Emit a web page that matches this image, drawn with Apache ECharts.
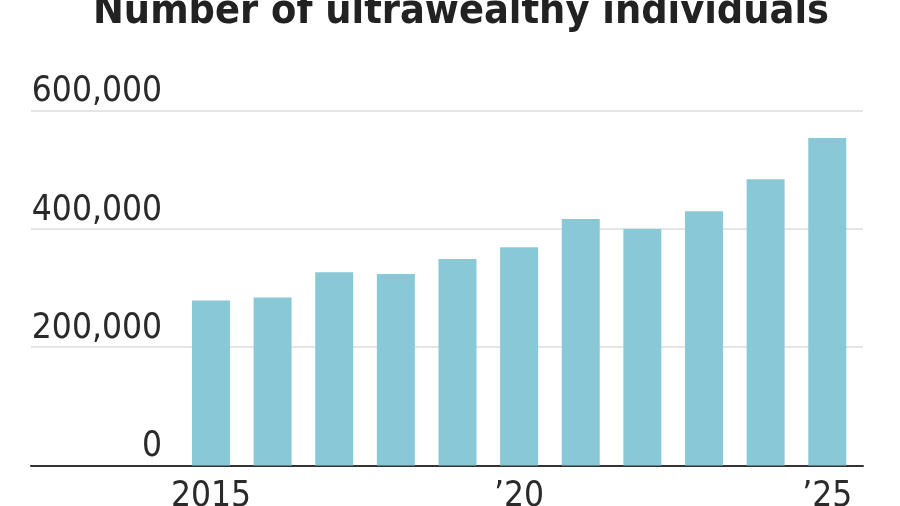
<!DOCTYPE html>
<html>
<head>
<meta charset="utf-8">
<script src="https://cdn.jsdelivr.net/npm/echarts@6/dist/echarts.min.js"></script>
<style>
  html, body { margin: 0; padding: 0; background: #fff; }
  #chart { width: 900px; height: 506px; }
</style>
</head>
<body>
<div id="chart"></div>
<script>
const years = [2015, 2016, 2017, 2018, 2019, 2020, 2021, 2022, 2023, 2024, 2025];
const individuals = [279000, 284000, 327000, 324000, 349000, 369000, 417000, 400000, 430000, 484000, 554000];
const xTickYears = [2015, 2020, 2025];
const yTicks = [0, 200000, 400000, 600000];

const font = '"DejaVu Sans Condensed", "DejaVu Sans", sans-serif';
const chart = echarts.init(document.getElementById('chart'));

chart.setOption({
    backgroundColor: '#fff',
    animation: false,
    title: {
        text: 'Number of ultrawealthy individuals',
        left: 88,
        top: -13,
        textStyle: {
            fontFamily: font,
            fontWeight: 'bold',
            fontSize: 41,
            lineHeight: 41,
            color: '#222'
        }
    },
    grid: {
        left: 31,
        right: 37,
        top: 110.7,
        bottom: 40.5,
        containLabel: false,
        outerBoundsMode: 'none'
    },
    xAxis: {
        type: 'value',
        min: 2012.08,
        max: 2025.58,
        axisLine: { show: true, onZero: false, lineStyle: { color: '#333', width: 2 } },
        axisTick: { show: false },
        splitLine: { show: false },
        axisLabel: {
            customValues: xTickYears,
            margin: 14,
            fontFamily: font,
            fontSize: 35,
            color: '#2a2a2a',
            formatter: v => (v === xTickYears[0] ? String(v) : '\u2019' + String(v).slice(2))
        }
    },
    yAxis: {
        type: 'value',
        min: yTicks[0],
        max: yTicks[yTicks.length - 1],
        interval: 200000,
        axisLine: { show: false },
        axisTick: { show: false },
        splitLine: { lineStyle: { color: '#e5e5e5', width: 2 } },
        axisLabel: {
            margin: -131,
            align: 'right',
            verticalAlign: 'bottom',
            lineHeight: 35,
            padding: [0, 0, 1, 0],
            fontFamily: font,
            fontSize: 35,
            color: '#2a2a2a',
            formatter: v => v.toLocaleString('en-US')
        }
    },
    series: [{
        type: 'bar',
        data: years.map((y, i) => [y, individuals[i]]),
        barWidth: 38,
        itemStyle: { color: '#89c9d7' },
        z: 1
    }]
});
</script>
</body>
</html>
